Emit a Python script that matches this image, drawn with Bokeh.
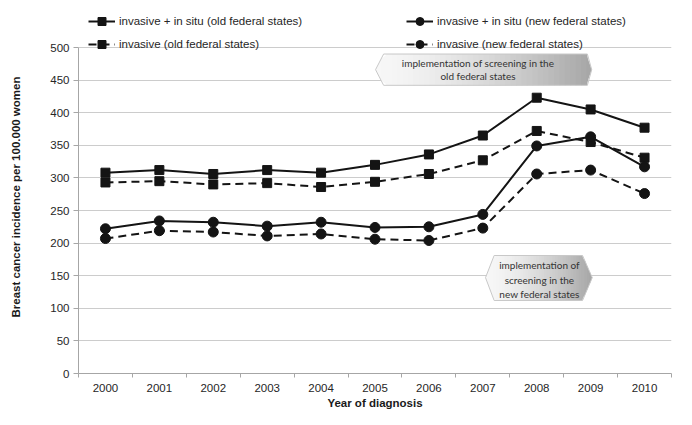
import numpy as np
from bokeh.plotting import figure
from bokeh.models import Legend, LegendItem, FixedTicker, Title
from bokeh.embed import file_html
from bokeh.resources import INLINE
from bokeh.core.properties import value

# ---------------- data ----------------
years = ["2000", "2001", "2002", "2003", "2004", "2005", "2006", "2007", "2008", "2009", "2010"]
inv_insitu_old = [308, 312, 306, 312, 308, 320, 336, 365, 423, 405, 377]
inv_old = [293, 295, 290, 292, 286, 294, 306, 327, 372, 355, 331]
inv_insitu_new = [222, 234, 232, 226, 232, 224, 225, 244, 349, 363, 317]
inv_new = [207, 219, 217, 211, 214, 206, 204, 223, 306, 312, 276]
y_ticks = [0, 50, 100, 150, 200, 250, 300, 350, 400, 450, 500]

label_old = "invasive + in situ (old federal states)"
label_old_inv = "invasive (old federal states)"
label_new = "invasive + in situ (new federal states)"
label_new_inv = "invasive (new federal states)"
y_title = "Breast cancer incidence per 100.000 women"
x_title = "Year of diagnosis"

note_old = ["implementation of screening in the", "old federal states"]
note_new = ["implementation of", "screening in the", "new federal states"]

x = list(range(len(years)))

FONT = "Liberation Sans"
FRAME_H = 373
Y_TOP = 500 * FRAME_H / 326.0   # frame extends above the 500 line to hold the legend

p = figure(width=676, height=409, frame_width=593, frame_height=FRAME_H,
           x_range=(-0.5, len(years) - 0.5), y_range=(0, Y_TOP),
           output_backend="svg", toolbar_location=None,
           min_border_left=78, min_border_right=5, min_border_top=0, min_border_bottom=36)
p.outline_line_color = None
p.background_fill_color = "white"
p.border_fill_color = "white"

# axes
p.xaxis.ticker = FixedTicker(ticks=x, minor_ticks=[i - 0.5 for i in range(len(years) + 1)])
p.xaxis.major_label_overrides = {i: years[i] for i in x}
p.xaxis.major_tick_out = 0
p.xaxis.major_tick_in = 0
p.xaxis.minor_tick_out = 4
p.xaxis.minor_tick_in = 0
p.xaxis.minor_tick_line_color = "#a6a6a6"
p.xaxis.axis_line_color = "#a6a6a6"
p.xaxis.major_label_standoff = 6
p.xaxis.axis_label = x_title
p.xaxis.axis_label_standoff = 2

p.yaxis.ticker = FixedTicker(ticks=y_ticks, minor_ticks=[])
p.yaxis.bounds = (0, 500)
p.yaxis.major_tick_out = 5
p.yaxis.major_tick_in = 0
p.yaxis.major_tick_line_color = "#a6a6a6"
p.yaxis.axis_line_color = "#a6a6a6"
p.yaxis.major_label_standoff = 4

for ax in (p.xaxis, p.yaxis):
    ax.major_label_text_font = FONT
    ax.major_label_text_font_size = "11.5px"
    ax.major_label_text_color = "#262626"
    ax.axis_label_text_font = FONT
    ax.axis_label_text_font_size = "11.5px"
    ax.axis_label_text_font_style = "bold"
    ax.axis_label_text_color = "#1a1a1a"

# spacer between the y-axis and its title
spacer = Title(text=" ", standoff=11, text_font=FONT, text_font_size="11.5px")
p.add_layout(spacer, "left")
# y-axis title, centred on the 0-500 part of the frame
yt = Title(text=y_title, align="left", offset=56, standoff=2,
           text_font=FONT, text_font_size="11.5px", text_font_style="bold",
           text_color="#1a1a1a")
p.add_layout(yt, "left")

p.xgrid.grid_line_color = None
p.ygrid.grid_line_color = "#cccccc"
p.ygrid.grid_line_width = 1

# ---------------- annotation boxes (gradient hexagons) ----------------
def hexagon(xl, xtl, xtr, xr, ybot, ymid, ytop, lines, text_x, text_ys):
    n = 40
    xs_edges = np.linspace(xl, xr, n + 1)
    px = [xl, xtl, xtr, xr]
    top = np.interp(xs_edges, px, [ymid, ytop, ytop, ymid])
    bot = np.interp(xs_edges, px, [ymid, ybot, ybot, ymid])
    pxs, pys, cols = [], [], []
    for i in range(n):
        x0 = xs_edges[i]
        x1 = xs_edges[i + 1] if i == n - 1 else xs_edges[i + 1] + 0.02
        b1 = bot[i + 1] if i == n - 1 else np.interp(x1, px, [ymid, ybot, ybot, ymid])
        t1 = top[i + 1] if i == n - 1 else np.interp(x1, px, [ymid, ytop, ytop, ymid])
        pxs.append([x0, x1, x1, x0])
        pys.append([bot[i], b1, t1, top[i]])
        t = (i + 0.5) / n
        c = int(round(247 - 82 * t ** 1.5))
        cols.append("#%02x%02x%02x" % (c, c, c))
    p.patches(pxs, pys, fill_color=cols, line_color=None)
    p.patch([xl, xtl, xtr, xr, xtr, xtl], [ymid, ytop, ytop, ymid, ybot, ybot],
            fill_color=None, line_color="#c8c8c8", line_width=1)
    p.text([text_x] * len(lines), text_ys, text=lines, text_align="center",
           text_baseline="middle", text_font=value("Lato"), text_font_size="10px",
           text_color="#333333")

hexagon(5.01, 5.16, 8.94, 9.02, 442, 466, 490, note_old, 6.91, [476, 456])
hexagon(7.05, 7.21, 8.85, 9.03, 112, 147, 181, note_new, 8.05, [166, 144, 122.5])

# ---------------- series ----------------
LC = "#141414"
r1l = p.line(x, inv_insitu_old, line_color=LC, line_width=2)
r1m = p.scatter(x, inv_insitu_old, marker="square", size=9, fill_color=LC, line_color=LC)
r2l = p.line(x, inv_old, line_color=LC, line_width=2, line_dash="8 5")
r2m = p.scatter(x, inv_old, marker="square", size=9, fill_color=LC, line_color=LC)
r3l = p.line(x, inv_insitu_new, line_color=LC, line_width=2)
r3m = p.scatter(x, inv_insitu_new, marker="circle", size=10, fill_color=LC, line_color=LC)
r4l = p.line(x, inv_new, line_color=LC, line_width=2, line_dash="8 5")
r4m = p.scatter(x, inv_new, marker="circle", size=10, fill_color=LC, line_color=LC)

def make_legend(items, loc):
    lg = Legend(items=items, location=loc, orientation="vertical",
                padding=0, margin=0, spacing=3, label_standoff=4,
                glyph_width=27, glyph_height=20, label_height=20,
                border_line_color=None, background_fill_alpha=0,
                label_text_font=FONT, label_text_font_size="11.5px",
                label_text_color="#262626")
    p.add_layout(lg, "center")

make_legend([LegendItem(label=label_old, renderers=[r1l, r1m]),
             LegendItem(label=label_old_inv, renderers=[r2l, r2m])], (10, 319))
make_legend([LegendItem(label=label_new, renderers=[r3l, r3m]),
             LegendItem(label=label_new_inv, renderers=[r4l, r4m])], (328, 319))

open("out.html", "w").write(file_html(p, INLINE))
